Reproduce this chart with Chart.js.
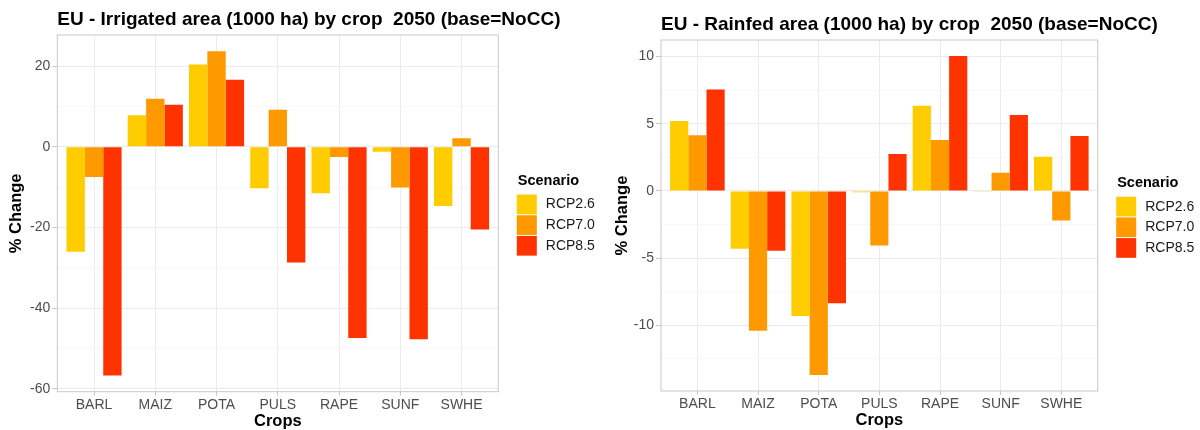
<!DOCTYPE html>
<html>
<head>
<meta charset="utf-8">
<script src="https://cdn.jsdelivr.net/npm/chart.js@4.4.1/dist/chart.umd.min.js"></script>
<style>
  html, body { margin: 0; padding: 0; background: #ffffff; }
  #wrap { position: relative; width: 1200px; height: 430px; overflow: hidden; }
  .panel { position: absolute; top: 0; width: 600px; height: 430px; }
</style>
</head>
<body>
<div id="wrap">
  <div class="panel" style="left:0"><canvas id="irrigated" width="600" height="430"></canvas></div>
  <div class="panel" style="left:600px"><canvas id="rainfed" width="600" height="430"></canvas></div>
</div>
<script>
// Crops on the x axis and the three climate scenarios
const crops = ['BARL', 'MAIZ', 'POTA', 'PULS', 'RAPE', 'SUNF', 'SWHE'];
const scenarios = ['RCP2.6', 'RCP7.0', 'RCP8.5'];
const scenarioColors = ['#FFCC00', '#FF9900', '#FF3300'];

// Irrigated area, % change vs NoCC in 2050
const irrigatedRcp26 = [-26.0, 7.8, 20.4, -10.3, -11.5, -1.2, -14.7];
const irrigatedRcp70 = [-7.5, 11.9, 23.7, 9.2, -2.5, -10.1, 2.1];
const irrigatedRcp85 = [-56.7, 10.4, 16.6, -28.7, -47.4, -47.7, -20.5];
const irrigatedTicks = [-60, -40, -20, 0, 20];

// Rainfed area, % change vs NoCC in 2050
const rainfedRcp26 = [5.2, -4.3, -9.3, -0.1, 6.35, -0.05, 2.55];
const rainfedRcp70 = [4.15, -10.4, -13.7, -4.05, 3.8, 1.35, -2.2];
const rainfedRcp85 = [7.55, -4.45, -8.35, 2.75, 10.05, 5.65, 4.1];
const rainfedTicks = [-10, -5, 0, 5, 10];

const FONT = "'Liberation Sans', Arial, Helvetica, sans-serif";
Chart.defaults.font.family = FONT;

const GRID_MAJOR = '#ebebeb';
const GRID_MINOR = '#f5f5f5';
const FRAME = '#c8c8c8';
const TICK_TEXT = '#4d4d4d';

// Title, panel frame and scenario legend, laid out around the chart area
const panelDecor = {
  id: 'panelDecor',
  afterDatasetsDraw(chart, args, opts) {
    const { ctx, chartArea: a } = chart;
    ctx.save();
    ctx.strokeStyle = FRAME;
    ctx.lineWidth = 1;
    ctx.strokeRect(a.left, a.top, a.right - a.left, a.bottom - a.top);
    ctx.restore();
  },
  afterDraw(chart, args, opts) {
    const { ctx, chartArea: a } = chart;
    ctx.save();
    // title
    ctx.fillStyle = '#000000';
    ctx.font = 'bold 19px ' + FONT;
    ctx.textAlign = 'left';
    ctx.textBaseline = 'middle';
    ctx.fillText(opts.title, a.left, a.top - 15);

    // legend
    const mid = (a.top + a.bottom) / 2;
    const keyX = a.right + 18.5;
    ctx.font = 'bold 14.5px ' + FONT;
    ctx.fillText('Scenario', keyX + 1, mid - 32.6);
    ctx.font = '14px ' + FONT;
    chart.data.datasets.forEach((ds, i) => {
      const top = mid - 18.8 + i * 20.7;
      ctx.fillStyle = ds.backgroundColor;
      ctx.fillRect(keyX, top, 20, 19.7);
      ctx.fillStyle = '#1a1a1a';
      ctx.fillText(ds.label, keyX + 29, top + 10);
    });
    ctx.restore();
  }
};

function makePanel(canvasId, title, series, majorTicks, geo) {
  const all = series.flat();
  const lo = Math.min(0, ...all), hi = Math.max(0, ...all);
  const pad = (hi - lo) * 0.05;
  const step = majorTicks[1] - majorTicks[0];
  const minorTicks = majorTicks.slice(0, -1).map(v => v + step / 2);
  minorTicks.unshift(majorTicks[0] - step / 2);
  minorTicks.push(majorTicks[majorTicks.length - 1] + step / 2);
  const yMin = lo - pad, yMax = hi + pad;
  const yTicks = majorTicks.concat(minorTicks).filter(v => v >= yMin && v <= yMax).sort((a, b) => a - b);
  const isMajor = v => majorTicks.includes(v);

  const datasets = series.map((vals, s) => ({
    label: scenarios[s],
    data: vals.map((y, i) => ({ x: i, y })),
    backgroundColor: scenarioColors[s],
    borderWidth: 0,
    categoryPercentage: 0.9,
    barPercentage: 1.0
  }));

  return new Chart(document.getElementById(canvasId), {
    type: 'bar',
    data: { datasets },
    options: {
      responsive: false,
      animation: false,
      events: [],
      layout: { padding: { left: 0, top: geo.top, right: 600 - geo.right, bottom: 0 } },
      plugins: {
        legend: { display: false },
        tooltip: { enabled: false },
        panelDecor: { title }
      },
      scales: {
        x: {
          type: 'linear',
          min: -0.6,
          max: crops.length - 1 + 0.6,
          offset: false,
          afterBuildTicks: s => { s.ticks = crops.map((c, i) => ({ value: i })); },
          afterFit: s => { s.height = 430 - geo.bottom; },
          border: { display: false },
          grid: { offset: false, color: GRID_MAJOR, lineWidth: 1, tickColor: FRAME, tickLength: 4, drawTicks: true },
          ticks: {
            autoSkip: false, maxRotation: 0, padding: 0.6,
            color: TICK_TEXT, font: { size: 14 },
            callback: v => crops[v]
          },
          title: {
            display: true, text: 'Crops', color: '#000000',
            font: { size: 16.5, weight: 'bold', lineHeight: 1 },
            padding: { top: 0, bottom: geo.xTitlePad }
          }
        },
        y: {
          type: 'linear',
          min: yMin,
          max: yMax,
          afterBuildTicks: s => { s.ticks = yTicks.map(v => ({ value: v })); },
          afterFit: s => { s.width = geo.left; },
          border: { display: false },
          grid: {
            color: c => isMajor(c.tick.value) ? GRID_MAJOR : GRID_MINOR,
            lineWidth: c => isMajor(c.tick.value) ? 1 : 0.7,
            tickColor: c => isMajor(c.tick.value) ? FRAME : 'rgba(0,0,0,0)',
            tickLength: 5, drawTicks: true
          },
          ticks: {
            padding: 2, color: TICK_TEXT, font: { size: 14 },
            callback: v => isMajor(v) ? String(v) : ''
          },
          title: {
            display: true, text: '% Change', color: '#000000',
            font: { size: 16.5, weight: 'bold', lineHeight: 1 },
            padding: { top: geo.yTitleX - 8.25, bottom: 0 }
          }
        }
      }
    },
    plugins: [panelDecor]
  });
}

makePanel('irrigated', 'EU - Irrigated area (1000 ha) by crop  2050 (base=NoCC)',
  [irrigatedRcp26, irrigatedRcp70, irrigatedRcp85], irrigatedTicks,
  { left: 57.3, right: 498.3, top: 35, bottom: 391.7, yTitleX: 16.8, xTitlePad: 0.75 });

makePanel('rainfed', 'EU - Rainfed area (1000 ha) by crop  2050 (base=NoCC)',
  [rainfedRcp26, rainfedRcp70, rainfedRcp85], rainfedTicks,
  { left: 61, right: 497.7, top: 40, bottom: 391, yTitleX: 22, xTitlePad: 1.5 });
</script>
</body>
</html>
